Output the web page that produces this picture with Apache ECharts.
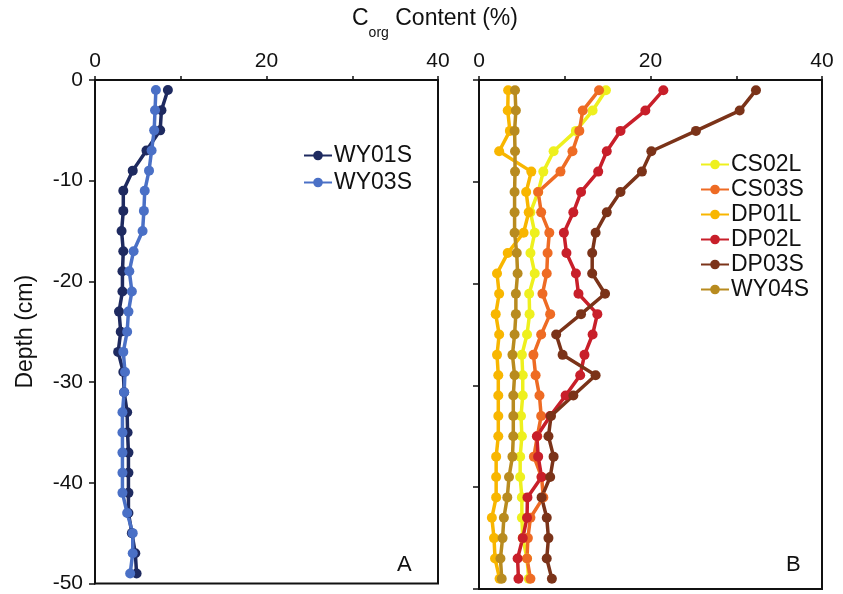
<!DOCTYPE html>
<html>
<head>
<meta charset="utf-8">
<script src="https://cdn.jsdelivr.net/npm/echarts@6/dist/echarts.min.js"></script>
<style>
  html, body { margin: 0; padding: 0; background: #fff; }
  #main { width: 843px; height: 594px; }
</style>
</head>
<body>
<div id="main"></div>
<script>
// depth of each sample (cm), mid point of 2 cm slices
var depth = [-1, -3, -5, -7, -9, -11, -13, -15, -17, -19, -21, -23, -25,
  -27, -29, -31, -33, -35, -37, -39, -41, -43, -45, -47, -49]

// panel A
var wy01s = [8.5, 7.75, 7.6, 6.0, 4.4, 3.3, 3.3, 3.1, 3.3, 3.2, 3.2, 2.8, 3.0,
  2.7, 3.3, 3.4, 3.75, 3.8, 3.9, 3.9, 3.9, 3.9, 4.3, 4.7, 4.85]
var wy03s = [7.1, 7.0, 6.9, 6.6, 6.3, 5.8, 5.7, 5.55, 4.5, 4.0, 4.3, 3.9, 3.75,
  3.3, 3.5, 3.4, 3.2, 3.2, 3.2, 3.2, 3.2, 3.75, 4.4, 4.4, 4.1]

// panel B
var cs02l = [14.8, 13.25, 11.3, 8.7, 7.5, 6.9, 6.0, 6.5, 6.0, 6.5, 5.85, 5.9, 5.6,
  5.0, 5.1, 5.1, 4.9, 5.0, 4.8, 4.8, 5.0, 5.0, 5.1, 5.6, 5.8]
var cs03s = [14.0, 12.1, 11.7, 10.9, 9.5, 6.9, 7.25, 8.2, 8.0, 7.9, 7.4, 8.3, 7.25,
  6.35, 6.6, 7.05, 7.25, 6.8, 6.4, 7.3, 7.5, 6.0, 5.7, 5.6, 6.0]
var dp01l = [3.4, 3.35, 3.6, 2.35, 6.1, 5.5, 5.8, 5.2, 3.35, 2.1, 2.35, 1.95, 2.35,
  2.1, 2.25, 2.25, 2.25, 2.25, 2.0, 2.0, 2.0, 1.5, 1.75, 1.87, 2.4]
var dp02l = [21.5, 19.4, 16.5, 14.9, 13.9, 11.9, 11.0, 9.9, 10.2, 11.3, 11.6, 13.8, 13.25,
  12.3, 11.8, 10.1, 8.3, 6.75, 6.9, 7.3, 5.65, 5.6, 5.1, 4.5, 4.6]
var dp03s = [32.3, 30.4, 25.3, 20.1, 19.0, 16.5, 14.9, 13.6, 13.2, 13.2, 14.7, 11.9, 9.0,
  9.75, 13.6, 11.0, 8.4, 8.1, 8.7, 8.3, 7.3, 7.9, 8.1, 7.9, 8.5]
var wy04s = [4.2, 4.3, 4.15, 4.2, 4.2, 4.15, 4.15, 4.15, 4.4, 4.5, 4.3, 4.3, 4.15,
  3.9, 4.15, 4.0, 4.0, 4.0, 3.9, 3.5, 3.3, 2.9, 2.75, 2.5, 2.65]

var xTicks = [0, 20, 40]

var chart = echarts.init(document.getElementById('main'))
var font = 'Liberation Sans, Arial, sans-serif'

function pairs(vals) {
  return vals.map(function (v, i) { return [v, depth[i]] })
}

function line(name, vals, color, idx) {
  return {
    name: name,
    type: 'line',
    xAxisIndex: idx,
    yAxisIndex: idx,
    data: pairs(vals),
    symbol: 'circle',
    symbolSize: 10,
    color: color,
    lineStyle: { width: 3.5, color: color },
    itemStyle: { color: color },
    animation: false
  }
}

function xAxis(idx) {
  return {
    gridIndex: idx,
    type: 'value',
    position: 'top',
    min: 0,
    max: 40,
    interval: 10,
    axisLine: { show: true, lineStyle: { color: '#111', width: 2 } },
    axisTick: { show: true, inside: false, length: 4, lineStyle: { color: '#111', width: 1.5 } },
    axisLabel: {
      color: '#111', fontSize: 21, fontFamily: font, margin: 8,
      formatter: function (v) { return xTicks.indexOf(v) >= 0 ? String(v) : '' }
    },
    splitLine: { show: false }
  }
}

function yAxis(idx) {
  return {
    gridIndex: idx,
    type: 'value',
    min: -50,
    max: 0,
    interval: 10,
    name: idx === 0 ? 'Depth (cm)' : '',
    nameLocation: 'middle',
    nameGap: 58,
    nameTextStyle: { color: '#111', fontSize: 23, fontFamily: font },
    axisLine: { show: true, lineStyle: { color: '#111', width: 2 } },
    axisTick: { show: true, inside: false, length: 6, lineStyle: { color: '#111', width: 1.5 } },
    axisLabel: { show: idx === 0, color: '#111', fontSize: 21, fontFamily: font, margin: 12 },
    splitLine: { show: false }
  }
}

chart.setOption({
  backgroundColor: '#fff',
  grid: [
    { left: 95, top: 80, width: 343, height: 509, show: true, borderColor: '#111', borderWidth: 2 },
    { left: 479, top: 80, width: 343, height: 509, show: true, borderColor: '#111', borderWidth: 2 }
  ],
  xAxis: [xAxis(0), xAxis(1)],
  yAxis: [yAxis(0), yAxis(1)],
  legend: [
    {
      data: ['WY01S', 'WY03S'],
      orient: 'vertical',
      left: 298,
      top: 139,
      itemWidth: 28,
      itemHeight: 12,
      itemGap: 4,
      textStyle: { color: '#111', fontSize: 23, fontFamily: font, padding: [0, 0, 0, -3] }
    },
    {
      data: ['CS02L', 'CS03S', 'DP01L', 'DP02L', 'DP03S', 'WY04S'],
      orient: 'vertical',
      left: 695,
      top: 148,
      itemWidth: 28,
      itemHeight: 12,
      itemGap: 2,
      textStyle: { color: '#111', fontSize: 23, fontFamily: font, padding: [0, 0, 0, -3] }
    }
  ],
  graphic: [
    {
      type: 'text',
      left: 352,
      top: 7,
      style: {
        text: '{c|C}{s|org}{c| Content (%)}',
        rich: {
          c: { fontSize: 23, fontFamily: font, fill: '#111', lineHeight: 33, verticalAlign: 'top' },
          s: { fontSize: 14, fontFamily: font, fill: '#111', lineHeight: 33, verticalAlign: 'bottom' }
        }
      }
    },
    { type: 'text', left: 397, top: 554, style: { text: 'A', fontSize: 22, fontFamily: font, fill: '#111' } },
    { type: 'text', left: 786, top: 554, style: { text: 'B', fontSize: 22, fontFamily: font, fill: '#111' } }
  ],
  series: [
    line('WY01S', wy01s, '#1e2a60', 0),
    line('WY03S', wy03s, '#4a70c6', 0),
    line('CS02L', cs02l, '#eef01e', 1),
    line('CS03S', cs03s, '#ee6b24', 1),
    line('DP01L', dp01l, '#f8b600', 1),
    line('DP02L', dp02l, '#c81f2a', 1),
    line('DP03S', dp03s, '#7b3319', 1),
    line('WY04S', wy04s, '#b88b1f', 1)
  ]
})
</script>
</body>
</html>
